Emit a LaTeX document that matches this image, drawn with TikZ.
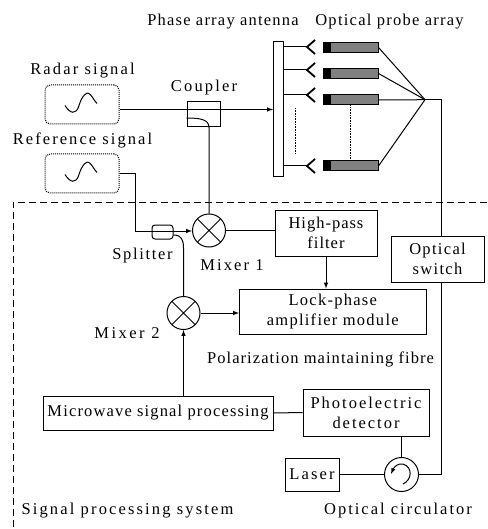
\documentclass[tikz,border=0pt]{standalone}
\usepackage{fontspec}
\setmainfont{Liberation Serif}
\usetikzlibrary{shapes.misc}
\tikzset{
    lbl/.style={inner sep=0pt,font=\fontsize{16.5}{20}\selectfont\addfontfeature{LetterSpace=#1}},
    lbl/.default=7,
    block/.style={draw,line width=1pt,fill=white,align=center,inner sep=0pt,font=\fontsize{16.5}{20}\selectfont\addfontfeature{LetterSpace=#1}},
    block/.default=7,
    sigbox/.style={draw,densely dotted,line width=1pt,rounded corners=5pt,minimum width=74pt,minimum height=39pt},
    mixer/.style={draw,circle,line width=1pt,fill=white,minimum size=33pt,inner sep=0pt,
        path picture={\draw[line width=1pt] (path picture bounding box.north west) -- (path picture bounding box.south east)
            (path picture bounding box.south west) -- (path picture bounding box.north east);}},
    probe/.style={draw,line width=1pt,fill=black!50,minimum width=55pt,minimum height=10pt,inner sep=0pt,
        path picture={\fill[black] (path picture bounding box.north west) rectangle ++(8,10);}},
}
\begin{document}
\begin{tikzpicture}[x=1pt,y=-1pt,>=latex,line width=1pt]
    \useasboundingbox (0,0) rectangle (487,529);

    \node[lbl=7.4] (phaselbl) at (223,22) {Phase array antenna};
    \node[lbl=7.6] (probelbl) at (389.5,22) {Optical probe array};
    \node[lbl=13] (radarlbl) at (82.5,71) {Radar signal};
    \node[lbl=13] (couplerlbl) at (204,88) {Coupler};
    \node[lbl=12.5] (reflbl) at (82.5,140) {Reference signal};
    \node[lbl=10] (splitterlbl) at (142.5,256) {Splitter};
    \node[lbl=13] (mixer1lbl) at (232,265) {Mixer 1};
    \node[lbl=15] (mixer2lbl) at (127,333) {Mixer 2};
    \node[lbl=6.5] (fibrelbl) at (320.5,359) {Polarization maintaining fibre};
    \node[lbl=13] (systemlbl) at (127.5,511) {Signal processing system};
    \node[lbl=12] (circlbl) at (398,511) {Optical circulator};

    \node[sigbox] (radar) at (82,104.5) {};
    \node[sigbox] (refsig) at (82,173.5) {};
    \node[draw,fill=white,line width=1pt,minimum width=10pt,minimum height=135pt,inner sep=0pt] (bar) at (278.5,109.5) {};
    \node[draw,line width=1pt,minimum width=33pt,minimum height=25pt,inner sep=0pt] (coupler) at (203.5,114.5) {};
    \node[mixer] (mixer1) at (209,230.5) {};
    \node[mixer] (mixer2) at (183.5,313) {};
    \node[draw,rounded corners=3pt,line width=1pt,minimum width=21pt,minimum height=14pt,inner sep=0pt] (splitter) at (162.5,232) {};
    \node[block=6,minimum width=102pt,minimum height=46pt] (highpass) at (326,233) {High-pass\\filter};
    \node[block=7.7,minimum width=186.5pt,minimum height=45pt] (lock) at (332.75,311.5) {Lock-phase\\amplifier module};
    \node[block=7,minimum width=230pt,minimum height=34pt] (microwave) at (158,413) {Microwave signal processing};
    \node[block=12,minimum width=126pt,minimum height=47pt] (detector) at (366,412.5) {Photoelectric\\detector};
    \node[block=13,minimum width=54pt,minimum height=33pt] (laser) at (312,474.5) {Laser};
    \node[draw,circle,line width=1pt,minimum size=34pt,inner sep=0pt] (circ) at (401.5,474.5) {};

    \coordinate (hub) at (425,99.7);
    \coordinate (bend) at (441,99.7);
    \coordinate (turnref) at (135,231);
    \coordinate (turnsplit) at (183.5,248);

    % signal boxes
    \foreach \sig in {radar,refsig}
        \draw[shift={(\sig)}] (-17,1) .. controls (-12,9) and (-6,11) .. (-3,1) .. controls (0,-9) and (5,-13) .. (7,-11) .. controls (10,-9) and (12,-4) .. (15,-1);

    % antenna and probes
    \foreach \i/\y in {1/47.5,2/73.5,3/100,4/166}
        \node[probe] (probe\i) at (350.5,\y) {};
    \foreach \i/\y in {1/47,2/70,3/95,4/166} {
        \coordinate (horn\i) at (307,\y);
        \draw (bar.east |- horn\i) -- (horn\i);
        \draw[line width=1.8pt] (315,\y-7) -- (horn\i) -- (315,\y+7);
    }
    \draw[densely dotted,line width=0.6pt] (295,108) -- (295,153);
    \draw[densely dotted,line width=0.6pt] (probe3.south) -- (probe4.north);
    \draw (probe1.east) -- (hub);
    \draw (probe2.east) -- (hub);
    \draw (probe3.east) -- (hub);
    \draw (probe4.east) -- (hub);

    % connectors
    \draw[->] (radar.east |- bar.west) -- (bar.west);
    \draw ([yshift=-3.5pt]coupler.west) .. controls +(14,0) and +(0,-8) .. (coupler.south -| mixer1) -- (mixer1.north);
    \draw[->] (refsig.east) -| (turnref) -- (mixer1.west |- turnref);
    \draw ([yshift=-3pt]splitter.east) .. controls +(8,0) and +(0,-8) .. (turnsplit) -- (mixer2.north);
    \draw (mixer1.east) -- (highpass.west |- mixer1);
    \draw[->] (highpass.south) -- (highpass.south |- lock.north);
    \draw[->] (mixer2.east) -- (lock.west |- mixer2);
    \draw[->] (mixer2.south |- microwave.north) -- (mixer2.south);
    \draw (microwave.east) -- (detector.west);
    \draw (detector.south -| circ) -- (circ.north);
    \draw (laser.east) -- (circ.west);
    \draw (hub) -- (bend) -- (bend |- circ) -- (circ.east);
    \draw[->] (403,484) .. controls (412,480) and (413,467) .. (403,464) .. controls (398,463) and (394,467) .. (391,474);

    \node[block=8,minimum width=93pt,minimum height=46pt] (switch) at (437.5,259) {Optical\\switch};

    % processing system border
    \coordinate (sysa) at (487,202);
    \coordinate (sysb) at (13,202);
    \coordinate (sysc) at (13,529);
    \draw[line width=0.8pt,dash pattern=on 7pt off 4pt] (sysa) -- (sysb) -- (sysc);
\end{tikzpicture}
\end{document}
